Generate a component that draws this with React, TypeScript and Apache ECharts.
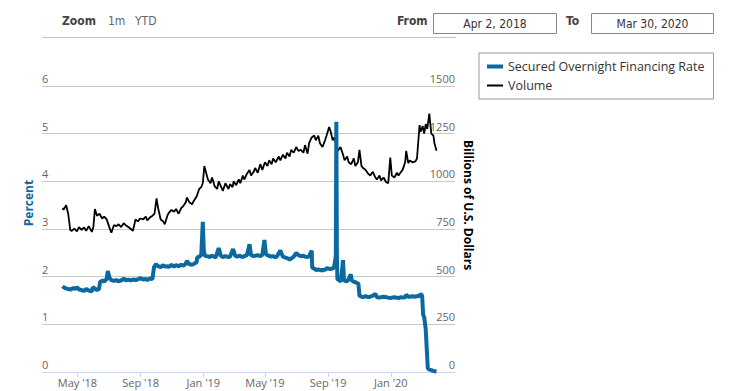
import React, { useEffect, useRef } from "react";
import * as echarts from "echarts";

const sofrDates = [
  "2018-04-02","2018-04-05","2018-04-10","2018-04-13","2018-04-18","2018-04-23","2018-04-27","2018-04-30",
  "2018-05-04","2018-05-09","2018-05-14","2018-05-18","2018-05-23","2018-05-29","2018-05-31",
  "2018-06-05","2018-06-08","2018-06-12","2018-06-14","2018-06-19","2018-06-22","2018-06-27","2018-06-29",
  "2018-07-03","2018-07-06","2018-07-11","2018-07-16","2018-07-20","2018-07-25","2018-07-31",
  "2018-08-03","2018-08-08","2018-08-13","2018-08-17","2018-08-22","2018-08-28","2018-08-31",
  "2018-09-06","2018-09-11","2018-09-14","2018-09-19","2018-09-24","2018-09-27",
  "2018-10-01","2018-10-05","2018-10-10","2018-10-15","2018-10-18","2018-10-23","2018-10-26","2018-10-31",
  "2018-11-05","2018-11-09","2018-11-14","2018-11-19","2018-11-23","2018-11-28","2018-11-30",
  "2018-12-05","2018-12-10","2018-12-14","2018-12-19","2018-12-20","2018-12-24","2018-12-28","2018-12-31",
  "2019-01-02","2019-01-04","2019-01-09","2019-01-14","2019-01-17","2019-01-22","2019-01-25","2019-01-31",
  "2019-02-04","2019-02-08","2019-02-13","2019-02-19","2019-02-22","2019-02-28",
  "2019-03-04","2019-03-08","2019-03-13","2019-03-18","2019-03-22","2019-03-27",
  "2019-04-01","2019-04-04","2019-04-09","2019-04-12","2019-04-17","2019-04-22","2019-04-26","2019-04-30",
  "2019-05-03","2019-05-08","2019-05-13","2019-05-16","2019-05-21","2019-05-24","2019-05-31",
  "2019-06-05","2019-06-10","2019-06-13","2019-06-18","2019-06-21","2019-06-26",
  "2019-07-01","2019-07-05","2019-07-10","2019-07-15","2019-07-18","2019-07-23","2019-07-26","2019-07-31",
  "2019-08-01","2019-08-06","2019-08-09","2019-08-14","2019-08-19","2019-08-22","2019-08-27","2019-08-30",
  "2019-09-05","2019-09-10","2019-09-13","2019-09-16","2019-09-17","2019-09-18","2019-09-19","2019-09-23","2019-09-26","2019-09-30",
  "2019-10-02","2019-10-07","2019-10-10","2019-10-15","2019-10-17","2019-10-22","2019-10-25","2019-10-30",
  "2019-11-01","2019-11-05","2019-11-08","2019-11-13","2019-11-18","2019-11-22","2019-11-27",
  "2019-12-02","2019-12-05","2019-12-10","2019-12-13","2019-12-18","2019-12-23","2019-12-27","2019-12-31",
  "2020-01-03","2020-01-08","2020-01-13","2020-01-16","2020-01-21","2020-01-24","2020-01-29","2020-01-31",
  "2020-02-04","2020-02-07","2020-02-12","2020-02-18","2020-02-21","2020-02-26","2020-02-28",
  "2020-03-02","2020-03-03","2020-03-04","2020-03-06","2020-03-09","2020-03-13","2020-03-16","2020-03-20","2020-03-24","2020-03-30",
];
const sofrValues = [
  1.80,1.77,1.75,1.74,1.73,1.76,1.74,1.78,
  1.73,1.72,1.70,1.74,1.71,1.69,1.78,
  1.74,1.72,1.74,1.89,1.92,1.90,1.95,2.12,
  1.96,1.93,1.91,1.93,1.90,1.92,1.96,
  1.92,1.94,1.92,1.94,1.93,1.95,1.97,
  1.94,1.95,1.93,1.96,1.95,2.20,
  2.26,2.22,2.20,2.24,2.21,2.22,2.20,2.25,
  2.21,2.24,2.22,2.25,2.23,2.27,2.33,
  2.26,2.25,2.27,2.30,2.40,2.42,2.45,3.15,
  2.55,2.44,2.43,2.41,2.44,2.42,2.40,2.60,
  2.44,2.41,2.43,2.41,2.42,2.58,
  2.44,2.42,2.44,2.41,2.43,2.45,
  2.68,2.45,2.43,2.44,2.45,2.43,2.46,2.77,
  2.47,2.44,2.42,2.43,2.41,2.42,2.55,
  2.42,2.40,2.39,2.36,2.38,2.42,
  2.50,2.45,2.43,2.44,2.42,2.41,2.43,2.55,
  2.19,2.16,2.14,2.15,2.13,2.14,2.15,2.18,
  2.16,2.17,2.22,2.43,5.25,2.55,1.95,1.92,1.90,2.35,
  1.92,1.90,1.93,2.05,1.92,1.89,1.88,1.85,
  1.60,1.58,1.57,1.59,1.57,1.58,1.60,
  1.64,1.57,1.56,1.57,1.58,1.57,1.56,1.55,
  1.56,1.57,1.56,1.55,1.57,1.56,1.57,1.62,
  1.58,1.58,1.59,1.58,1.59,1.60,1.64,
  1.60,1.59,1.20,1.15,0.90,0.08,0.05,0.04,0.02,0.01,
];

const volumeDates = [
  "2018-04-02","2018-04-04","2018-04-09","2018-04-13","2018-04-17","2018-04-20","2018-04-25","2018-04-30",
  "2018-05-04","2018-05-09","2018-05-14","2018-05-18","2018-05-23","2018-05-29",
  "2018-06-01","2018-06-04","2018-06-08","2018-06-13","2018-06-18","2018-06-22","2018-06-27",
  "2018-07-02","2018-07-06","2018-07-11","2018-07-16","2018-07-20","2018-07-25","2018-07-30",
  "2018-08-03","2018-08-08","2018-08-13","2018-08-17","2018-08-22","2018-08-27","2018-08-31",
  "2018-09-06","2018-09-11","2018-09-14","2018-09-19","2018-09-24","2018-09-28",
  "2018-10-02","2018-10-05","2018-10-10","2018-10-15","2018-10-18","2018-10-23","2018-10-26","2018-10-31",
  "2018-11-05","2018-11-09","2018-11-14","2018-11-19","2018-11-23","2018-11-28","2018-11-30",
  "2018-12-05","2018-12-10","2018-12-14","2018-12-19","2018-12-24","2018-12-28","2018-12-31",
  "2019-01-03","2019-01-07","2019-01-10","2019-01-15","2019-01-18","2019-01-23","2019-01-28","2019-01-31",
  "2019-02-05","2019-02-08","2019-02-13","2019-02-19","2019-02-22","2019-02-27",
  "2019-03-01","2019-03-06","2019-03-11","2019-03-14","2019-03-19","2019-03-22","2019-03-27",
  "2019-04-01","2019-04-04","2019-04-09","2019-04-12","2019-04-17","2019-04-22","2019-04-26",
  "2019-05-01","2019-05-06","2019-05-09","2019-05-14","2019-05-17","2019-05-22","2019-05-28","2019-05-31",
  "2019-06-05","2019-06-10","2019-06-13","2019-06-18","2019-06-21","2019-06-26",
  "2019-07-01","2019-07-05","2019-07-10","2019-07-15","2019-07-18","2019-07-23","2019-07-26","2019-07-31",
  "2019-08-05","2019-08-08","2019-08-13","2019-08-16","2019-08-21","2019-08-26","2019-08-29",
  "2019-09-03","2019-09-06","2019-09-10","2019-09-13","2019-09-17","2019-09-20","2019-09-25","2019-09-30",
  "2019-10-03","2019-10-08","2019-10-11","2019-10-16","2019-10-21","2019-10-24","2019-10-29",
  "2019-11-01","2019-11-05","2019-11-08","2019-11-13","2019-11-18","2019-11-22","2019-11-27",
  "2019-12-02","2019-12-05","2019-12-10","2019-12-13","2019-12-18","2019-12-23","2019-12-27","2019-12-31",
  "2020-01-03","2020-01-08","2020-01-13","2020-01-16","2020-01-21","2020-01-24","2020-01-29","2020-01-31",
  "2020-02-04","2020-02-07","2020-02-12","2020-02-18","2020-02-21","2020-02-26","2020-02-28",
  "2020-03-03","2020-03-06","2020-03-09","2020-03-12","2020-03-16","2020-03-18","2020-03-20","2020-03-24","2020-03-26","2020-03-30",
];
const volumeValues = [
  860,850,875,830,745,740,752,738,
  760,745,758,740,765,735,
  760,855,820,830,805,815,800,
  760,730,770,765,775,760,780,
  770,760,750,740,800,790,805,
  800,815,795,810,820,830,
  910,860,800,790,775,820,835,850,
  840,855,830,860,870,890,915,
  890,880,900,920,960,970,990,
  1080,1040,1010,990,1020,975,960,1000,
  970,950,990,960,985,970,
  1000,980,1010,990,1030,1010,1040,
  1060,1030,1050,1070,1045,1090,1060,
  1100,1080,1110,1090,1120,1100,1130,1110,
  1140,1120,1150,1130,1165,1150,
  1180,1160,1165,1150,1190,1145,1200,1230,
  1240,1215,1240,1200,1180,1215,1240,
  1285,1260,1215,1230,1190,1160,1180,1140,
  1110,1130,1100,1090,1120,1080,1100,
  1165,1080,1070,1060,1040,1030,1050,
  1020,1010,1030,1005,1020,995,990,1125,
  1030,1020,1045,1030,1050,1060,1100,1160,
  1095,1110,1100,1105,1120,1295,1260,
  1290,1250,1300,1275,1355,1300,1250,1240,1200,1160,
];

const xTickDates = ["2018-05-01","2018-09-01","2019-01-01","2019-05-01","2019-09-01","2020-01-01"];
const xTickLabels = ["May '18","Sep '18","Jan '19","May '19","Sep '19","Jan '20"];
const xRange = ["2018-02-21","2020-05-05"];
const fromText = "Apr 2, 2018";
const toText = "Mar 30, 2020";

const ts = (s: string) => new Date(s + "T00:00:00").getTime();

const FONT = "'Open Sans', sans-serif";
const COND = "'DejaVu Sans Condensed', 'Liberation Sans Narrow', sans-serif";
const BLUE = "#0a6aa0";
const SOFR_NAME = "Secured Overnight Financing Rate";
const VOL_NAME = "Volume";

export default function App() {
  const ref = useRef<HTMLDivElement>(null);
  useEffect(() => {
    if (!ref.current) return;
    const chart = echarts.init(ref.current, null, { renderer: "svg" });
    const tickVals = xTickDates.map(ts);
    const option: any = {
      animation: false,
      backgroundColor: "#fff",
      textStyle: { fontFamily: FONT },
      grid: { left: 42, right: 293, top: 86, bottom: 19, containLabel: false },
      legend: {
        orient: "vertical",
        left: 479,
        top: 53,
        padding: [7, 9, 7, 8],
        itemGap: 6,
        itemWidth: 16,
        itemHeight: 10,
        borderColor: "#999",
        borderWidth: 1,
        textStyle: { fontFamily: FONT, fontSize: 12.5, color: "#333" },
        data: [
          { name: SOFR_NAME, icon: "path://M0,0L16,0L16,4L0,4Z" },
          { name: VOL_NAME, icon: "path://M0,0L16,0L16,2L0,2Z" },
        ],
      },
      xAxis: {
        type: "value",
        min: ts(xRange[0]),
        max: ts(xRange[1]),
        axisLine: { lineStyle: { color: "#ccd6eb" } },
        axisTick: { show: true, length: 5, customValues: tickVals, lineStyle: { color: "#ccd6eb" } },
        axisLabel: {
          customValues: tickVals,
          color: "#666",
          fontSize: 11,
          fontFamily: FONT,
          margin: 5,
          formatter: (v: number) => {
            let best = 0;
            tickVals.forEach((t, i) => { if (Math.abs(t - v) < Math.abs(tickVals[best] - v)) best = i; });
            return xTickLabels[best];
          },
        },
        splitLine: { show: false },
      },
      yAxis: [
        {
          type: "value",
          min: 0,
          max: 6,
          interval: 1,
          position: "left",
          axisLine: { show: false },
          axisTick: { show: false },
          axisLabel: { inside: true, margin: 0, color: "#666", fontSize: 11, fontFamily: FONT, verticalAlign: "bottom", padding: [0, 0, 2, 0], formatter: (v: number) => String(v) },
          splitLine: { show: true, lineStyle: { color: "#c8c8c8", width: 1 } },
        },
        {
          type: "value",
          min: 0,
          max: 1500,
          interval: 250,
          position: "right",
          axisLine: { show: false },
          axisTick: { show: false },
          axisLabel: { inside: true, margin: 0, color: "#666", fontSize: 11, fontFamily: FONT, verticalAlign: "bottom", padding: [0, 0, 2, 0], formatter: (v: number) => String(v) },
          splitLine: { show: false },
        },
      ],
      series: [
        {
          name: VOL_NAME,
          type: "line",
          yAxisIndex: 1,
          symbol: "none",
          data: volumeDates.map((d, i) => [ts(d), volumeValues[i]]),
          lineStyle: { color: "#000", width: 1.8 },
          itemStyle: { color: "#000" },
          z: 2,
        },
        {
          name: SOFR_NAME,
          type: "line",
          yAxisIndex: 0,
          symbol: "none",
          data: sofrDates.map((d, i) => [ts(d), sofrValues[i]]),
          lineStyle: { color: BLUE, width: 4 },
          itemStyle: { color: BLUE },
          z: 3,
        },
      ],
      graphic: [
        { type: "text", left: 62, top: 15, style: { text: "Zoom", fontFamily: COND, fontSize: 12, fontWeight: "bold", fill: "#444" } },
        { type: "text", left: 108, top: 15, style: { text: "1m", fontFamily: COND, fontSize: 12, fill: "#666" } },
        { type: "text", left: 135, top: 15, style: { text: "YTD", fontFamily: COND, fontSize: 12, fill: "#666" } },
        { type: "line", shape: { x1: 42, y1: 37.5, x2: 456, y2: 37.5 }, style: { stroke: "#c4c4c4", lineWidth: 1 } },
        { type: "text", left: 397, top: 15, style: { text: "From", fontFamily: COND, fontSize: 12, fontWeight: "bold", fill: "#444" } },
        { type: "rect", shape: { x: 433.5, y: 13.5, width: 123, height: 20 }, style: { fill: "#fff", stroke: "#888", lineWidth: 1 } },
        { type: "text", x: 495, y: 23.5, style: { text: fromText, fontFamily: COND, fontSize: 12, fill: "#333", align: "center", verticalAlign: "middle" } },
        { type: "text", left: 566, top: 15, style: { text: "To", fontFamily: COND, fontSize: 12, fontWeight: "bold", fill: "#444" } },
        { type: "rect", shape: { x: 591.5, y: 13.5, width: 122, height: 20 }, style: { fill: "#fff", stroke: "#888", lineWidth: 1 } },
        { type: "text", x: 652.5, y: 23.5, style: { text: toText, fontFamily: COND, fontSize: 12, fill: "#333", align: "center", verticalAlign: "middle" } },
        { type: "text", x: 28, y: 203, rotation: Math.PI / 2, style: { text: "Percent", fontFamily: FONT, fontSize: 12, fontWeight: "bold", fill: BLUE, align: "center", verticalAlign: "middle" } },
        { type: "text", x: 468, y: 205, rotation: -Math.PI / 2, style: { text: "Billions of U.S. Dollars", fontFamily: FONT, fontSize: 12, fontWeight: "bold", fill: "#000", align: "center", verticalAlign: "middle" } },
      ],
    };
    chart.setOption(option);
    return () => chart.dispose();
  }, []);
  return <div ref={ref} style={{ position: "fixed", left: 0, top: 0, width: 748, height: 391 }} />;
}
